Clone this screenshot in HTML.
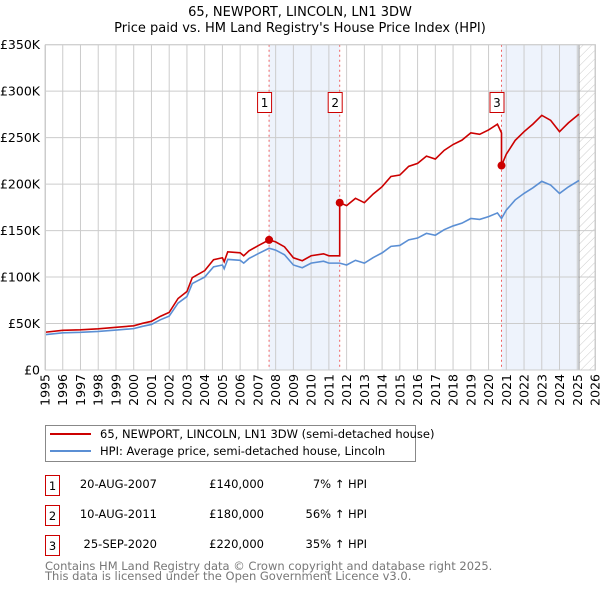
<!DOCTYPE html>
<html><head><meta charset="utf-8"><style>
body{margin:0;background:#fff;width:600px;height:590px;overflow:hidden}
svg{font-family:"DejaVu Sans","Liberation Sans",sans-serif}
</style></head><body>
<svg id="c" width="600" height="590" xmlns="http://www.w3.org/2000/svg">
<defs><pattern id="hatch" width="6" height="6" patternUnits="userSpaceOnUse" patternTransform="rotate(45)"><line x1="0" y1="0" x2="0" y2="6" stroke="#ccc" stroke-width="1"/></pattern></defs>
<text x="300" y="16" text-anchor="middle" font-size="13">65, NEWPORT, LINCOLN, LN1 3DW</text>
<text x="300" y="32" text-anchor="middle" font-size="13">Price paid vs. HM Land Registry's House Price Index (HPI)</text>
<g id="plot"></g>
<g>
<rect x="45.5" y="425.5" width="370" height="36" fill="#fff" stroke="#888"/>
<line x1="50" y1="434" x2="91" y2="434" stroke="#cc0000" stroke-width="2"/>
<text x="100" y="438" font-size="11.5">65, NEWPORT, LINCOLN, LN1 3DW (semi-detached house)</text>
<line x1="50" y1="451" x2="91" y2="451" stroke="#5b8fd4" stroke-width="2"/>
<text x="100" y="455" font-size="11.5">HPI: Average price, semi-detached house, Lincoln</text>
</g>
<g font-size="11.5">
<rect x="45.5" y="475.5" width="14" height="20" fill="none" stroke="#cc0000"/><text x="52.5" y="490" text-anchor="middle">1</text>
<text x="157" y="488" text-anchor="end">20-AUG-2007</text>
<text x="264" y="488" text-anchor="end">£140,000</text>
<text x="367" y="488" text-anchor="end">7% ↑ HPI</text>
<rect x="45.5" y="505.5" width="14" height="20" fill="none" stroke="#cc0000"/><text x="52.5" y="520" text-anchor="middle">2</text>
<text x="157" y="518" text-anchor="end">10-AUG-2011</text>
<text x="264" y="518" text-anchor="end">£180,000</text>
<text x="367" y="518" text-anchor="end">56% ↑ HPI</text>
<rect x="45.5" y="535.5" width="14" height="20" fill="none" stroke="#cc0000"/><text x="52.5" y="550" text-anchor="middle">3</text>
<text x="157" y="548" text-anchor="end">25-SEP-2020</text>
<text x="264" y="548" text-anchor="end">£220,000</text>
<text x="367" y="548" text-anchor="end">35% ↑ HPI</text>
</g>
<text x="45" y="570" font-size="11.5" fill="#777">Contains HM Land Registry data © Crown copyright and database right 2025.</text>
<text x="45" y="580" font-size="11.5" fill="#777">This data is licensed under the Open Government Licence v3.0.</text>
</svg>
<script>
const hpiYears=[1995,1996,1997,1998,1999,2000,2000.5,2001,2001.5,2002,2002.5,2003,2003.3,2004,2004.5,2005,2005.1,2005.3,2006,2006.2,2006.5,2007,2007.63,2008,2008.5,2009,2009.5,2010,2010.7,2011,2011.61,2012,2012.5,2013,2013.5,2014,2014.5,2015,2015.5,2016,2016.5,2017,2017.5,2018,2018.5,2019,2019.5,2020,2020.5,2020.73,2021,2021.5,2022,2022.5,2023,2023.5,2024,2024.5,2025.1];
const hpiValues=[38000,40000,40500,41500,43000,44500,47000,49000,54000,58000,72000,79000,93000,100000,111000,113000,109000,119000,118000,115000,120000,125000,131000,129000,124000,113000,110000,115000,117000,115000,115000,113000,118000,115000,121000,126000,133000,134000,140000,142000,147000,145000,151000,155000,158000,163000,162000,165000,169000,163000,172000,183000,190000,196000,203000,199000,190000,197000,204000];
const saleYears=[2007.63,2011.61,2020.73];
const salePrices=[140000,180000,220000];
const saleLabels=["1","2","3"];
const yTicks=[0,50000,100000,150000,200000,250000,300000,350000];
const yTickLabels=["£0","£50K","£100K","£150K","£200K","£250K","£300K","£350K"];
const xTicks=[1995,1996,1997,1998,1999,2000,2001,2002,2003,2004,2005,2006,2007,2008,2009,2010,2011,2012,2013,2014,2015,2016,2017,2018,2019,2020,2021,2022,2023,2024,2025,2026];
const dataEnd=2025.1;

const L=45,R=595,T=44.7,B=370;
const xs=y=>L+(y-1995)/(2026-1995)*(R-L);
const ys=v=>B-v/350000*(B-T);
const NS="http://www.w3.org/2000/svg";
const g=document.getElementById('plot');
function mk(t,a,p){const e=document.createElementNS(NS,t);for(const k in a)e.setAttribute(k,a[k]);(p||g).appendChild(e);return e;}
function hpiAt(y){for(let i=0;i<hpiYears.length-1;i++){if(y<=hpiYears[i+1]){const f=(y-hpiYears[i])/(hpiYears[i+1]-hpiYears[i]);return hpiValues[i]+f*(hpiValues[i+1]-hpiValues[i]);}}return hpiValues[hpiValues.length-1];}

// shading
const sh=[[saleYears[0],saleYears[1]],[saleYears[2],dataEnd]];
sh.forEach((s,i)=>{const r=mk('rect',{x:xs(s[0]),y:T,width:xs(s[1])-xs(s[0]),height:B-T,fill:'#eef3fc'});

});
const hr=mk('rect',{x:xs(dataEnd),y:T,width:R-xs(dataEnd),height:B-T,fill:'url(#hatch)'});


// grid
xTicks.forEach(t=>{const l=mk('line',{x1:xs(t),x2:xs(t),y1:T,y2:B,stroke:'#ccc'});


const tx=mk('text',{x:0,y:0,'font-size':12.5,'text-anchor':'end',transform:`translate(${xs(t)+4.5},${B+4}) rotate(-90)`});tx.textContent=t;

});
yTicks.forEach((t,i)=>{const l=mk('line',{x1:L,x2:R,y1:ys(t),y2:ys(t),stroke:'#ccc'});


const tx=mk('text',{x:L-5,y:ys(t)+4.5,'font-size':12.5,'text-anchor':'end'});tx.textContent=yTickLabels[i];

});
const dl=mk('line',{x1:xs(dataEnd),x2:xs(dataEnd),y1:T,y2:B,stroke:'#999'});


// sale lines
saleYears.forEach((s,i)=>{const l=mk('line',{x1:xs(s),x2:xs(s),y1:T,y2:B,stroke:'#f06060','stroke-dasharray':'2,3'});


const r=mk('rect',{x:xs(s)-11.5,y:92.5,width:14,height:20,fill:'#fff',stroke:'#cc0000'});


const t=mk('text',{x:xs(s)-4.5,y:107,'font-size':12,'text-anchor':'middle'});t.textContent=saleLabels[i];

});
// hpi line
const hp=mk('polyline',{points:hpiYears.map((y,i)=>xs(y)+','+ys(hpiValues[i])).join(' '),fill:'none',stroke:'#5b8fd4','stroke-width':1.6});


// property line: hpi scaled from most recent sale
const pts=[];
function ratioAt(y){let k=0;for(let i=0;i<saleYears.length;i++)if(y>=saleYears[i])k=i;return salePrices[k]/hpiAt(saleYears[k]);}
hpiYears.forEach((y,i)=>{
 saleYears.forEach((s,j)=>{if(i>0&&hpiYears[i-1]<s&&y>=s){const prev=(j===0?salePrices[0]/hpiAt(s):salePrices[j-1]/hpiAt(saleYears[j-1]))*hpiAt(s);pts.push([s,prev]);pts.push([s,salePrices[j]]);}});
 pts.push([y,hpiValues[i]*ratioAt(y)]);});
const pp=mk('polyline',{points:pts.map(p=>xs(p[0])+','+ys(p[1])).join(' '),fill:'none',stroke:'#cc0000','stroke-width':1.6});


saleYears.forEach((s,i)=>{const c=mk('circle',{cx:xs(s),cy:ys(salePrices[i]),r:4,fill:'#cc0000'});

});
const fr=mk('rect',{x:L+0.5,y:T,width:R-L,height:B-T,fill:'none',stroke:'#ccc'});


</script>
</body></html>
